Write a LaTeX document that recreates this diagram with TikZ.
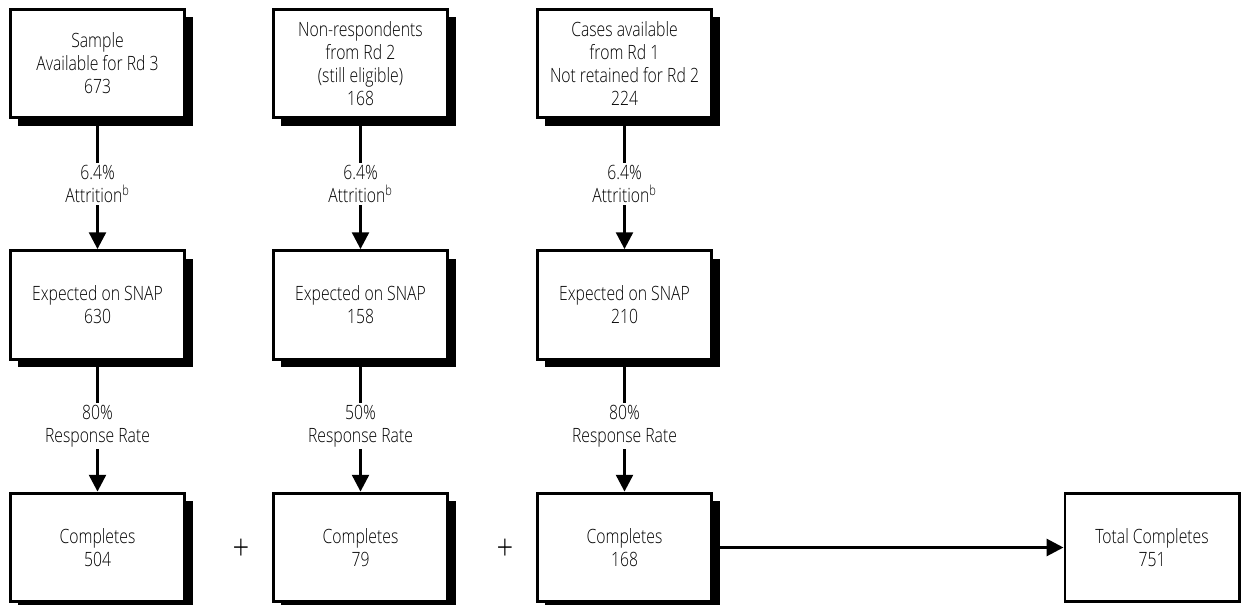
\documentclass[tikz,border=0pt]{standalone}
\usepackage{fontspec}
\setmainfont{Open Sans Light}[FakeStretch=0.8]
\usepackage{tikz}
\usetikzlibrary{shapes,arrows.meta,positioning,calc,shadows}

\tikzset{
    stage/.style={draw, line width=2.1pt, fill=white, minimum width=4.35cm,
        minimum height=2.72cm, align=center, inner sep=2pt,
        font=\fontsize{14}{16.3}\selectfont},
    shadowed/.style={drop shadow={shadow xshift=0.2cm, shadow yshift=-0.2cm,
        fill=black, opacity=1}},
    flow/.style={line width=2.1pt, -{Triangle[length=0.42cm, width=0.42cm]}},
    rate/.style={fill=white, align=center, inner sep=1.5pt,
        font=\fontsize{14}{16.3}\selectfont},
    plus/.style={font=\fontsize{26}{26}\selectfont}
}

\begin{document}
\begin{tikzpicture}[x=0.025cm, y=-0.025cm]
    \useasboundingbox (0,0) rectangle (1243,605);
    % top row: sample sources
    \node[stage, shadowed] (samp) at (97.5,63.5) {Sample\\Available for Rd 3\\673};
    \node[stage, shadowed] (nonresp) at (360.5,63.5) {Non-respondents\\from Rd 2\\(still eligible)\\168};
    \node[stage, shadowed] (cases) at (624.5,63.5) {Cases available\\from Rd 1\\Not retained for Rd 2\\224};
    % middle row: expected on SNAP
    \node[stage, shadowed] (exp1) at (97.5,305) {Expected on SNAP\\630};
    \node[stage, shadowed] (exp2) at (360.5,305) {Expected on SNAP\\158};
    \node[stage, shadowed] (exp3) at (624.5,305) {Expected on SNAP\\210};
    % bottom row: completes
    \node[stage, shadowed] (comp1) at (97.5,547.5) {Completes\\504};
    \node[stage, shadowed] (comp2) at (360.5,547.5) {Completes\\79};
    \node[stage, shadowed] (comp3) at (624.5,547.5) {Completes\\168};
    \node[stage] (total) at (1152,547.5) {Total Completes\\751};
    % plus signs between the completes
    \node[plus] (plus1) at (241,550) {+};
    \node[plus] (plus2) at (505,550) {+};
    % attrition arrows
    \foreach \a/\b in {samp/exp1, nonresp/exp2, cases/exp3}
    {
        \draw[flow] (\a) -- node[rate] {6.4\%\\Attrition\textsuperscript{b}} (\b);
    }
    % response rate arrows
    \draw[flow] (exp1) -- node[rate] {80\%\\Response Rate} (comp1);
    \draw[flow] (exp2) -- node[rate] {50\%\\Response Rate} (comp2);
    \draw[flow] (exp3) -- node[rate] {80\%\\Response Rate} (comp3);
    % sum arrow towards the total
    \draw[flow] (comp3) -- (total);
\end{tikzpicture}
\end{document}
